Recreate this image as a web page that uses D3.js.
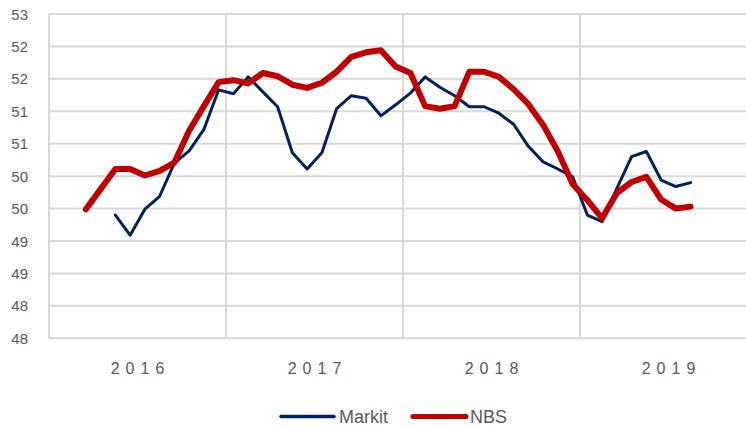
<!DOCTYPE html>
<html>
<head>
<meta charset="utf-8">
<script src="https://cdn.jsdelivr.net/npm/d3@7"></script>
<style>
	body { margin: 0; background: #fff; }
	text { font-family: "Liberation Sans", Arial, sans-serif; fill: #595959; }
</style>
</head>
<body>
<svg></svg>
<script>
const width = 746;
const height = 427;

const years = ['2016', '2017', '2018', '2019'];
const monthsPerYear = 12;

// one label per month, Jan 2016 .. Dec 2019
const months = [];
for (const yr of years) {
	for (let m = 1; m <= monthsPerYear; m++) months.push(yr + '-' + String(m).padStart(2, '0'));
}

// values (null = no value)
const markit = [
	null, null, null, null, 49.90, 49.59, 49.99, 50.19, 50.70, 50.89, 51.22, 51.83,
	51.77, 52.03, 51.80, 51.57, 50.86, 50.61, 50.86, 51.54, 51.74, 51.70, 51.43, 51.60,
	51.78, 52.03, 51.87, 51.74, 51.57, 51.57, 51.47, 51.30, 50.96, 50.72, 50.61, 50.49,
	49.90, 49.80, 50.31, 50.80, 50.88, 50.44, 50.34, 50.40, null, null, null, null
];
const nbs = [
	null, null, 49.99, 50.30, 50.61, 50.61, 50.51, 50.58, 50.71, 51.20, 51.58, 51.95,
	51.98, 51.93, 52.09, 52.04, 51.91, 51.86, 51.94, 52.11, 52.34, 52.41, 52.44, 52.19,
	52.09, 51.58, 51.54, 51.58, 52.11, 52.11, 52.03, 51.84, 51.61, 51.29, 50.88, 50.38,
	50.13, 49.85, 50.24, 50.41, 50.49, 50.14, 50.00, 50.03, null, null, null, null
];

const yTicks = d3.range(48, 53.01, 0.5);

const series = [
	{ name: 'Markit', values: markit, color: '#002060', width: 3 },
	{ name: 'NBS', values: nbs, color: '#C00000', width: 6 }
];

const plot = { left: 49, right: 757, top: 14, bottom: 338.3 };

const svg = d3.select('svg').attr('width', width).attr('height', height);

const x = d3.scaleBand().domain(months).range([plot.left, plot.right]).paddingInner(0).paddingOuter(0);
const y = d3.scaleLinear().domain([48, 53]).range([plot.bottom, plot.top]);

// horizontal grid
svg.append('g').selectAll('line')
	.data(yTicks).enter().append('line')
	.attr('x1', plot.left).attr('x2', width)
	.attr('y1', d => y(d)).attr('y2', d => y(d))
	.style('stroke', '#d9d9d9').style('stroke-width', 2);

// vertical separators between years (and the left edge)
svg.append('g').selectAll('line')
	.data(years).enter().append('line')
	.attr('x1', d => x(d + '-01')).attr('x2', d => x(d + '-01'))
	.attr('y1', plot.top).attr('y2', plot.bottom)
	.style('stroke', '#d9d9d9').style('stroke-width', 2);

// y labels
svg.append('g').selectAll('text')
	.data(yTicks).enter().append('text')
	.attr('x', 28).attr('y', d => y(d) + 5.5)
	.attr('text-anchor', 'end')
	.style('font-size', '15px')
	.text(d => Math.floor(d));

// year labels, centred under each year
const spacing = 6;
svg.append('g').selectAll('text')
	.data(years).enter().append('text')
	.attr('x', d => (x(d + '-01') + x(d + '-12') + x.bandwidth()) / 2 + spacing / 2)
	.attr('y', 374)
	.attr('text-anchor', 'middle')
	.style('font-size', '16px')
	.style('letter-spacing', spacing + 'px')
	.text(d => d);

// lines
const line = d3.line()
	.defined(d => d.v != null)
	.x(d => x(d.m) + x.bandwidth() / 2)
	.y(d => y(d.v));

svg.append('g').selectAll('path')
	.data(series).enter().append('path')
	.attr('d', s => line(months.map((m, i) => ({ m: m, v: s.values[i] }))))
	.style('fill', 'none')
	.style('stroke', s => s.color)
	.style('stroke-width', s => s.width)
	.style('stroke-linejoin', 'round')
	.style('stroke-linecap', 'round');

// legend
const legendPos = [{ x1: 281, x2: 334, tx: 339 }, { x1: 413, x2: 466, tx: 470 }];
const legend = svg.append('g').selectAll('g')
	.data(series).enter().append('g');
legend.append('line')
	.attr('x1', (d, i) => legendPos[i].x1).attr('x2', (d, i) => legendPos[i].x2)
	.attr('y1', 416.5).attr('y2', 416.5)
	.style('stroke', d => d.color)
	.style('stroke-width', d => d.width === 3 ? 3.5 : 5)
	.style('stroke-linecap', 'round');
legend.append('text')
	.attr('x', (d, i) => legendPos[i].tx).attr('y', 423)
	.style('font-size', '18px')
	.text(d => d.name);
</script>
</body>
</html>
